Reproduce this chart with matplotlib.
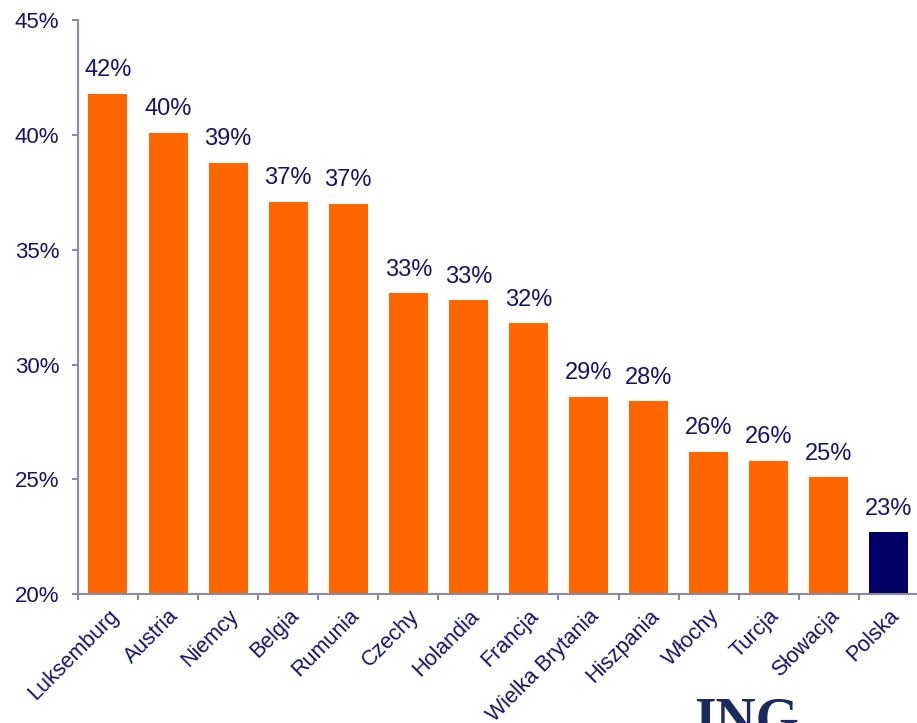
import numpy as np
import matplotlib.pyplot as plt
import matplotlib.ticker as ticker

plt.rcParams['font.family'] = ['Liberation Sans', 'DejaVu Sans']

# Data (percent)
countries = ['Luksemburg', 'Austria', 'Niemcy', 'Belgia', 'Rumunia', 'Czechy',
             'Holandia', 'Francja', 'Wielka Brytania', 'Hiszpania', 'Włochy',
             'Turcja', 'Słowacja', 'Polska']
values = [41.8, 40.1, 38.8, 37.1, 37.0, 33.1, 32.8, 31.8, 28.6, 28.4, 26.2,
          25.8, 25.1, 22.7]
labels = ['42%', '40%', '39%', '37%', '37%', '33%', '33%', '32%', '29%', '28%',
          '26%', '26%', '25%', '23%']

orange = '#FF6600'
navy = '#000066'
text_col = '#13136B'
axis_col = '#8A8AA0'

fig = plt.figure(figsize=(9.17, 7.23), dpi=100)
ax = fig.add_axes([0.085, 0.178, 0.917, 0.794])

x = np.arange(len(countries))
colors = [orange] * (len(countries) - 1) + [navy]
ax.bar(x, values, width=0.65, color=colors, bottom=0)

for xi, v, lab in zip(x, values, labels):
    ax.text(xi, v + 0.55, lab, ha='center', va='bottom', fontsize=17, color=text_col)

ax.set_ylim(20, 45)
ax.set_xlim(-0.5, len(countries) - 0.5)
ax.yaxis.set_major_locator(ticker.MultipleLocator(5))
ax.yaxis.set_major_formatter(ticker.FuncFormatter(lambda y, _: f'{y:.0f}%'))

# x ticks sit between categories, labels at bar centres
ax.set_xticks(np.arange(len(countries) + 1) - 0.5)
ax.set_xticklabels([])
ax.set_xticks(x, minor=True)
ax.set_xticklabels(countries, minor=True, rotation=45, ha='right',
                   rotation_mode='anchor', fontsize=15.5, color=text_col)
ax.tick_params(axis='x', which='minor', length=0, pad=8)
ax.tick_params(axis='x', which='major', length=4.5, width=1.5, color=axis_col)
ax.tick_params(axis='y', length=4.5, width=1.5, color=axis_col, labelsize=16,
               labelcolor=text_col, pad=9)

for side in ['top', 'right']:
    ax.spines[side].set_visible(False)
for side in ['left', 'bottom']:
    ax.spines[side].set_color(axis_col)
    ax.spines[side].set_linewidth(1.5)

# partial ING logo at bottom edge
fig.text(0.757, -0.035, 'ING', fontsize=40, fontweight='bold', family='Liberation Serif',
         color='#1B2A5E', ha='left', va='bottom')

fig.savefig('out.png', dpi=100)
